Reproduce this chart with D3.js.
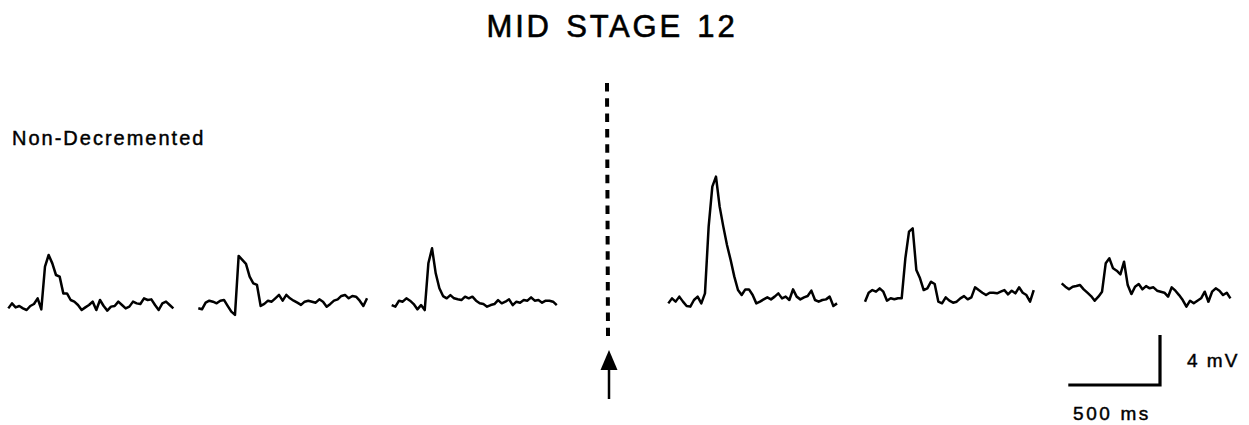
<!DOCTYPE html>
<html>
<head>
<meta charset="utf-8">
<script src="https://cdn.jsdelivr.net/npm/d3@7/dist/d3.min.js"></script>
<style>
  html, body { margin: 0; padding: 0; background: #fff; }
  svg { display: block; }
  text { font-family: "Liberation Sans", Arial, Helvetica, sans-serif; fill: #000; stroke: #000; stroke-width: 0.45px; }
</style>
</head>
<body>
<svg id="chart" width="1249" height="425"></svg>
<script>
// ---- DATA (membrane potential in mV relative to each sweep's rest, sampled every 20 ms) ----
const title = "MID STAGE 12";
const conditionLabel = "Non-Decremented";
const sampleIntervalMs = 20;
const scaleBarTimeMs = 500;
const scaleBarVoltageMv = 4;
const scaleBarTimeLabel = "500 ms";
const scaleBarVoltageLabel = "4 mV";

const sweep1 = [-0.19,0.21,-0.11,0,-0.19,-0.32,0,0.16,0.61,-0.27,3.15,4.08,3.41,2.48,2.35,1.01,1.01,0.48,0.35,0.08,-0.32,-0.11,0.08,0.35,-0.32,0.48,0,-0.37,-0.05,0,0.35,0.08,-0.19,-0.05,0.35,0.21,0.16,0.61,0.48,0.53,0.08,-0.32,0.21,0.35,0.08,-0.19];
const sweep2 = [-0.40,-0.48,0.05,0.21,0.13,0,0.21,0.27,-0.21,-0.67,-0.93,3.79,3.47,3.15,2.13,1.60,1.47,-0.21,-0.05,0.21,0.13,0.40,0.67,0.21,0.67,0.40,0.21,0.05,-0.13,0.13,0.21,0.13,0.05,0.32,0.13,-0.27,-0.05,0.21,0.32,0.59,0.67,0.40,0.59,0.53,0.21,-0.21,0.40];
const sweep3 = [-0.27,-0.40,0.08,0,0.27,0.08,-0.19,-0.61,-0.27,-0.67,3.07,4.27,2.27,1.07,0.45,0.27,0.53,0.27,0.19,0.13,0.40,0.27,0.40,0.08,-0.13,-0.19,-0.40,-0.27,-0.19,0.13,-0.13,0,0.19,-0.27,0,-0.08,0.13,0.08,0.35,0.08,0.13,-0.08,0.08,0.08,0,-0.27];
const sweep4 = [-0.27,0.13,-0.13,0.27,-0.13,-0.48,-0.53,0,0.27,-0.27,0.53,5.87,9.07,9.87,7.47,5.87,4.40,3.20,1.87,0.80,0.40,0.85,0.85,0.40,-0.27,-0.13,0.05,0.21,0.05,0.27,0.53,0.13,0.27,0,0.85,0.27,0.05,0.21,0.32,0.75,0,-0.13,0,0.05,0.27,-0.48,-0.27];
const sweep5 = [-0.40,0.32,0.53,0.40,0.67,0.40,-0.32,-0.13,-0.21,-0.13,-0.13,3.07,5.20,5.47,2.13,1.47,0.53,0.67,1.20,1.01,-0.40,-0.53,-0.05,-0.32,-0.48,-0.40,-0.13,0.05,-0.21,-0.05,0.75,0.53,0.32,0.13,0.32,0.32,0.27,0.40,0.53,0.19,0.48,0.27,0.75,0.32,0.13,-0.40,0.53];
const sweep6 = [0.67,0.40,0.19,0.40,0.45,0.53,0.19,-0.08,-0.35,-0.72,-0.40,0,2.27,2.67,1.87,1.68,1.39,2.40,0.53,-0.19,0.40,0.61,0.19,0.45,0.27,0.35,0.08,0,-0.08,-0.40,0.35,0.08,-0.27,-0.67,-1.20,-0.72,-0.93,-0.72,-0.53,0,-0.80,0,0.27,0.08,-0.27,-0.08,-0.53];
const sweeps = [sweep1, sweep2, sweep3, sweep4, sweep5, sweep6];

// ---- LAYOUT ----
const sweepOrigins = [
  {x: 8.3,   y: 306.0},
  {x: 198.3, y: 303.3},
  {x: 391.7, y: 301.7},
  {x: 668.3, y: 300.0},
  {x: 865.0, y: 296.7},
  {x: 1061.7,y: 291.7}
];

const svg = d3.select("#chart");

// scales: 500 ms -> 91.7 px, 4 mV -> 50 px
const x = d3.scaleLinear().domain([0, scaleBarTimeMs]).range([0, 91.7]);
const y = d3.scaleLinear().domain([0, scaleBarVoltageMv]).range([0, -50]);

const line = d3.line()
  .x((d, i) => x(i * sampleIntervalMs))
  .y(d => y(d))
  .curve(d3.curveLinear);

// title
svg.append("text")
  .attr("x", 612).attr("y", 37)
  .attr("text-anchor", "middle")
  .style("font-size", "31px")
  .style("letter-spacing", "2.8px")
  .style("word-spacing", "3px")
  .style("stroke-width", "0.6px")
  .text(title);

// condition label
svg.append("text")
  .attr("x", 12).attr("y", 145)
  .style("font-size", "20px")
  .style("letter-spacing", "2px")
  .text(conditionLabel);

// sweeps
const g = svg.append("g");
sweeps.forEach((s, k) => {
  g.append("path")
    .attr("transform", `translate(${sweepOrigins[k].x},${sweepOrigins[k].y})`)
    .attr("d", line(s))
    .attr("fill", "none")
    .attr("stroke", "#000")
    .attr("stroke-width", 2.5)
    .attr("stroke-linejoin", "round");
});

// stimulus marker: dotted line and arrow
svg.append("line")
  .attr("x1", 607).attr("y1", 83)
  .attr("x2", 608).attr("y2", 336)
  .attr("stroke", "#000")
  .attr("stroke-width", 4)
  .attr("stroke-dasharray", "8.5,6.8");

svg.append("line")
  .attr("x1", 609).attr("y1", 368)
  .attr("x2", 609).attr("y2", 399)
  .attr("stroke", "#000")
  .attr("stroke-width", 2.5);
svg.append("path")
  .attr("d", "M609,350 L617.5,370 L600.5,370 Z")
  .attr("fill", "#000");

// scale bar
const sbX = 1160, sbY = 385;
svg.append("path")
  .attr("d", `M${sbX + x(0) - x(scaleBarTimeMs)},${sbY} L${sbX},${sbY} L${sbX},${sbY + y(scaleBarVoltageMv)}`)
  .attr("fill", "none")
  .attr("stroke", "#000")
  .attr("stroke-width", 3.2);

svg.append("text")
  .attr("x", 1187).attr("y", 367)
  .style("font-size", "19px")
  .style("letter-spacing", "2px")
  .text(scaleBarVoltageLabel);

svg.append("text")
  .attr("x", 1073).attr("y", 420)
  .style("font-size", "19px")
  .style("letter-spacing", "2.6px")
  .text(scaleBarTimeLabel);
</script>
</body>
</html>
